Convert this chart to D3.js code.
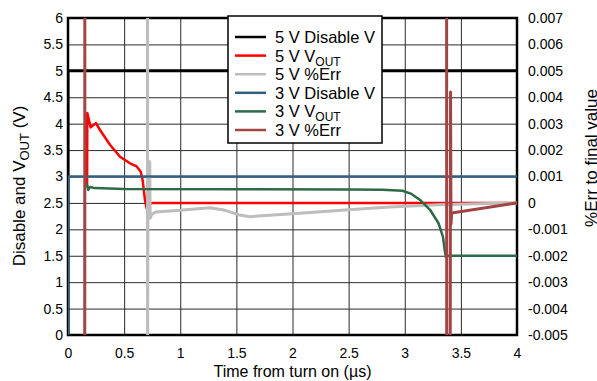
<!DOCTYPE html>
<html><head><meta charset="utf-8">
<script src="https://cdn.jsdelivr.net/npm/d3@7"></script>
<style>body{margin:0;background:#fff}svg{display:block;font-family:"Liberation Sans",Arial,sans-serif}</style>
</head><body><svg id="c" width="597" height="381"></svg>
<script>
// ---- data ----
const xTicks = [0,0.5,1,1.5,2,2.5,3,3.5,4];
const xTickLabels = ["0","0.5","1","1.5","2","2.5","3","3.5","4"];
const yLeftTicks = [0,0.5,1,1.5,2,2.5,3,3.5,4,4.5,5,5.5,6];
const yLeftLabels = ["0","0.5","1","1.5","2","2.5","3","3.5","4","4.5","5","5.5","6"];
const yRightTicks = [-0.005,-0.004,-0.003,-0.002,-0.001,0,0.001,0.002,0.003,0.004,0.005,0.006,0.007];
const yRightLabels = ["-0.005","-0.004","-0.003","-0.002","-0.001","0","0.001","0.002","0.003","0.004","0.005","0.006","0.007"];

const seriesNames = ["5 V Disable V","5 V VOUT","5 V %Err","3 V Disable V","3 V VOUT","3 V %Err"];

// time (µs), value
const disable5T = [0,0,4];
const disable5V = [0,5,5];
const vout5T = [0.170,0.172,0.202,0.249,0.285,0.374,0.463,0.552,0.612,0.648,0.665,0.686,0.701,0.713,0.746,4];
const vout5V = [2.8,4.2,3.93,4.01,3.88,3.60,3.375,3.25,3.19,3.09,2.93,2.55,2.40,2.45,2.5,2.5];
const err5T = [0.60,0.708,0.709,0.712,0.728,0.732,0.745,0.78,1.0,1.265,1.4,1.53,1.62,2.0,2.5,2.87,3.3,4.0];
const err5V = [0.008,0.008,-0.006,-0.0006,0.00156,-0.00058,-0.00044,-0.00034,-0.00028,-0.00018,-0.00028,-0.00046,-0.00052,-0.00041,-0.00026,-0.00015,-0.00007,0];
const disable3T = [0,0,4];
const disable3V = [0,3,3];
const vout3T = [0.166,0.180,0.195,0.24,0.5,1.5,2.5,2.8,2.98,3.06,3.14,3.225,3.30,3.34,3.36,3.365,3.39,4];
const vout3V = [2.87,2.745,2.80,2.78,2.765,2.76,2.755,2.75,2.73,2.67,2.55,2.37,2.12,1.86,1.55,1.48,1.5,1.5];
const err3T = [0.10,0.149,0.150,3.373,3.374,3.405,3.408,3.412,3.418,4];
const err3V = [-0.006,-0.006,0.008,0.008,-0.006,-0.006,0.0042,-0.0008,-0.00038,0];

const colors = ["#000000","#ff0000","#bdbdbd","#336080","#2c6a48","#a34444"];
const widths = [3,2.5,3,2.5,2.5,3];

// ---- layout ----
const svg = d3.select("#c");
const L=68,R=517,T=18,B=335;
const x = d3.scaleLinear().domain([0,4]).range([L,R]);
const yL = d3.scaleLinear().domain([0,6]).range([B,T]);
const yR = d3.scaleLinear().domain([-0.005,0.007]).range([B,T]);

svg.append("clipPath").attr("id","clip").append("rect")
  .attr("x",L).attr("y",T).attr("width",R-L).attr("height",B-T);

// grid + axes
const gx = svg.append("g").attr("transform",`translate(0,${B})`)
  .call(d3.axisBottom(x).tickValues(xTicks).tickSize(-(B-T)).tickPadding(13)
    .tickFormat((d,i)=>xTickLabels[i]));
const gl = svg.append("g").attr("transform",`translate(${L},0)`)
  .call(d3.axisLeft(yL).tickValues(yLeftTicks).tickSize(-(R-L)).tickPadding(5)
    .tickFormat((d,i)=>yLeftLabels[i]));
const gr = svg.append("g").attr("transform",`translate(${R},0)`)
  .call(d3.axisRight(yR).tickValues(yRightTicks).tickSize(0).tickPadding(11)
    .tickFormat((d,i)=>yRightLabels[i]));
[gx,gl,gr].forEach(g=>{
  g.select(".domain").remove();
  g.selectAll(".tick line").attr("stroke","#2a2a2a").attr("stroke-width",1);
  g.selectAll(".tick text").attr("fill","#000").style("font-size","14px")
   .style("font-family","'Liberation Sans',Arial,sans-serif");
});

// frame
svg.append("rect").attr("x",L).attr("y",T).attr("width",R-L).attr("height",B-T)
  .attr("fill","none").attr("stroke","#000").attr("stroke-width",2.5);

// series
const seriesT=[disable5T,vout5T,err5T,disable3T,vout3T,err3T];
const seriesV=[disable5V,vout5V,err5V,disable3V,vout3V,err3V];
const seriesAxis=[yL,yL,yR,yL,yL,yR];
const plot = svg.append("g").attr("clip-path","url(#clip)");
seriesT.forEach((ts,k)=>{
  const pts = ts.map((t,i)=>[t,seriesV[k][i]]);
  const yy = seriesAxis[k];
  plot.append("path").datum(pts)
    .attr("fill","none").attr("stroke",colors[k]).attr("stroke-width",widths[k])
    .attr("stroke-linejoin","round")
    .attr("d",d3.line().x(d=>x(d[0])).y(d=>yy(d[1])));
});

// legend
const lg = svg.append("g");
lg.append("rect").attr("x",228).attr("y",16).attr("width",154).attr("height",127)
  .attr("fill","#fff").attr("stroke","#000").attr("stroke-width",1.5);
seriesNames.forEach((n,i)=>{
  const yy = 37 + i*18.6;
  lg.append("line").attr("x1",235).attr("x2",266).attr("y1",yy).attr("y2",yy)
    .attr("stroke",colors[i]).attr("stroke-width",2.5);
  const t = lg.append("text").attr("x",275).attr("y",yy+6).style("font-size","16.5px");
  if(n.includes("VOUT")){
    const parts=n.split("VOUT");
    t.append("tspan").text(parts[0]+"V");
    t.append("tspan").attr("dy",4).style("font-size","12px").text("OUT");
  } else t.text(n);
});

// axis titles
svg.append("text").attr("x",(L+R)/2).attr("y",377).attr("text-anchor","middle")
  .style("font-size","16px").text("Time from turn on (µs)");
const lt = svg.append("text").attr("transform","translate(25,186) rotate(-90)")
  .attr("text-anchor","middle").style("font-size","17px");
lt.append("tspan").text("Disable and V");
lt.append("tspan").attr("dy",4).style("font-size","13px").text("OUT");
lt.append("tspan").attr("dy",-4).text(" (V)");
svg.append("text").attr("transform","translate(597,158) rotate(-90)")
  .attr("text-anchor","middle").style("font-size","17px").text("%Err to final value");
</script></body></html>
